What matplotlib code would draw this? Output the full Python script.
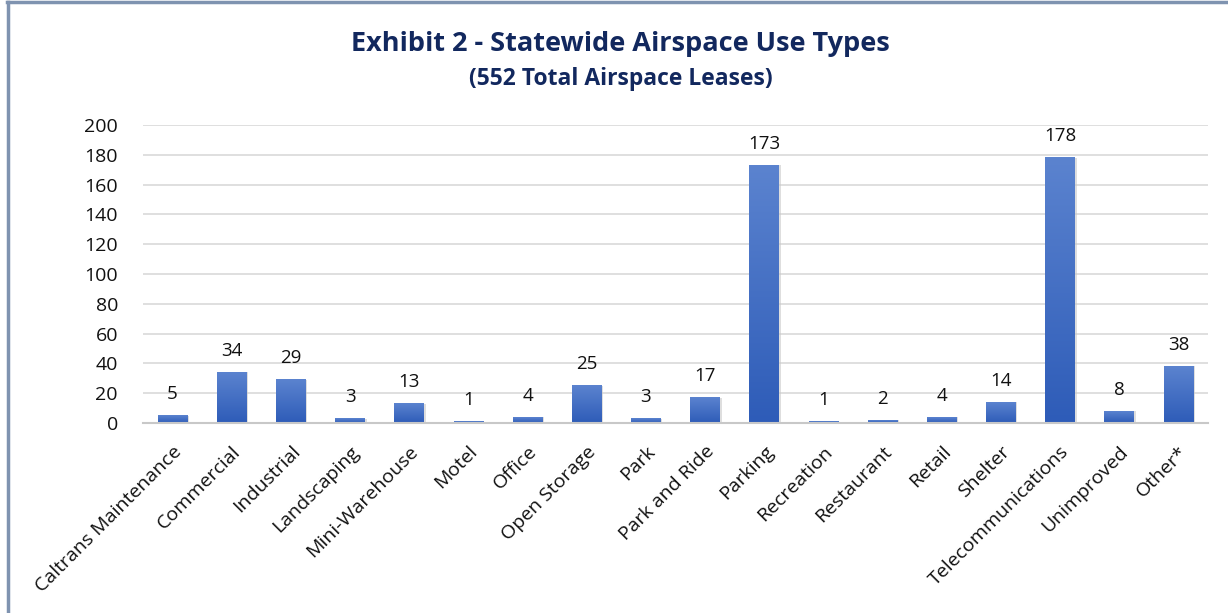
import numpy as np
import matplotlib.pyplot as plt
from matplotlib.colors import LinearSegmentedColormap
from matplotlib.lines import Line2D

categories = ['Caltrans Maintenance', 'Commercial', 'Industrial', 'Landscaping',
              'Mini-Warehouse', 'Motel', 'Office', 'Open Storage', 'Park',
              'Park and Ride', 'Parking', 'Recreation', 'Restaurant', 'Retail',
              'Shelter', 'Telecommunications', 'Unimproved', 'Other*']
leases = [5, 34, 29, 3, 13, 1, 4, 25, 3, 17, 173, 1, 2, 4, 14, 178, 8, 38]

plt.rcParams['font.family'] = ['Open Sans', 'DejaVu Sans']

fig = plt.figure(figsize=(12.28, 6.13), dpi=100)
ax = fig.add_axes([143 / 1228, 1 - 423 / 613, 1065 / 1228, 298 / 613])

x = np.arange(len(categories))
width = 0.5
grad = LinearSegmentedColormap.from_list('bar', ['#2e5cb8', '#5b83cf'])
gradient = np.linspace(0, 1, 100).reshape(-1, 1)

bars = ax.bar(x, leases, width=width, color='none', zorder=2)
for b in bars:
    x0, y0 = b.get_x(), b.get_y()
    w, h = b.get_width(), b.get_height()
    # soft shadow
    ax.bar(x0 + w / 2 + 0.03, h, width=w, bottom=y0, color='#c8c8c8', alpha=0.6, zorder=1.5)
    ax.imshow(gradient, extent=[x0, x0 + w, y0, y0 + h], origin='lower',
              cmap=grad, aspect='auto', zorder=2)
for xi, v in zip(x, leases):
    ax.annotate(str(v), (xi, v), xytext=(0, 9), textcoords='offset points',
                ha='center', va='bottom', fontsize=13.5, color='#111111')

ax.set_xlim(-0.5, len(categories) - 0.5)
ax.set_ylim(0, 200)
ax.set_yticks(range(0, 201, 20))
ax.set_xticks(x)
ax.set_xticklabels(categories, rotation=45, ha='right', rotation_mode='anchor',
                   fontsize=14, color='#111111')
ax.tick_params(axis='y', labelsize=14, colors='#111111', length=0, pad=18)
ax.tick_params(axis='x', length=0, pad=14)
ax.grid(axis='y', color='#d9d9d9', linewidth=1.2, zorder=0)
ax.set_axisbelow(True)
for s in ['top', 'right', 'left']:
    ax.spines[s].set_visible(False)
ax.spines['bottom'].set_color('#c8c8c8')
ax.spines['bottom'].set_linewidth(1.5)

fig.text(620 / 1228, 1 - 44 / 613, 'Exhibit 2 - Statewide Airspace Use Types', ha='center',
         va='center', fontsize=19.5, fontweight='bold', color='#12285e')
fig.text(621 / 1228, 1 - 79 / 613, '(552 Total Airspace Leases)', ha='center',
         va='center', fontsize=16.5, fontweight='bold', color='#12285e')

# frame edges (top and left)
fig.add_artist(Line2D([7 / 1228, 1], [1 - 2 / 613, 1 - 2 / 613], transform=fig.transFigure,
                      color='#7f93b0', linewidth=2.5))
fig.add_artist(Line2D([7.5 / 1228, 7.5 / 1228], [0, 1 - 2 / 613], transform=fig.transFigure,
                      color='#7f93b0', linewidth=2.5))

fig.savefig('out.png', dpi=100)
